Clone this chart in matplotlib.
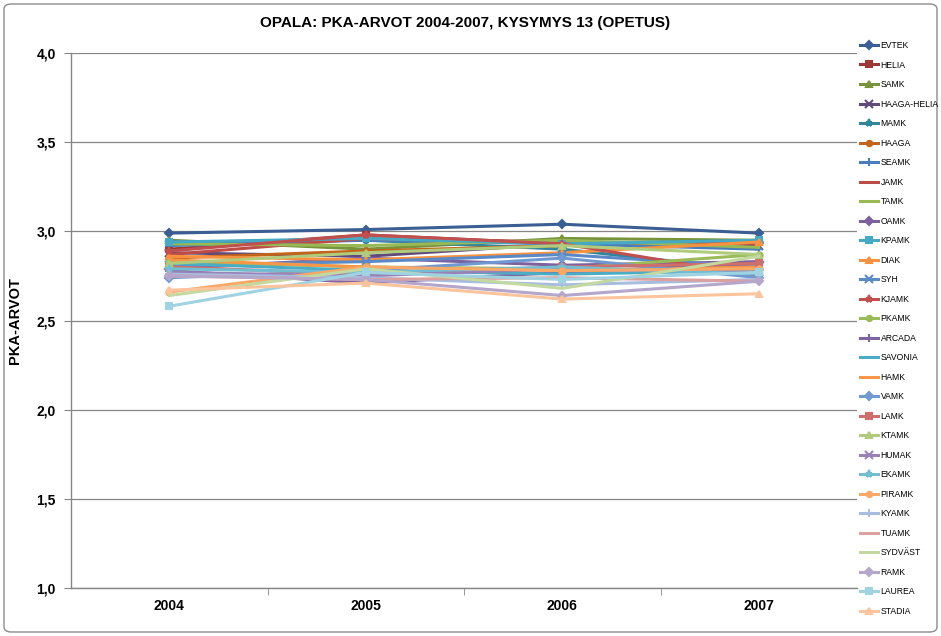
import matplotlib
matplotlib.use('Agg')
import matplotlib.pyplot as plt
from matplotlib.patches import FancyBboxPatch

plt.rcParams['font.family'] = ['Liberation Sans Narrow', 'Liberation Sans', 'DejaVu Sans']

years = ['2004', '2005', '2006', '2007']
yticks = [1.0, 1.5, 2.0, 2.5, 3.0, 3.5, 4.0]
ytick_labels = ['1,0', '1,5', '2,0', '2,5', '3,0', '3,5', '4,0']

names = ['EVTEK', 'HELIA', 'SAMK', 'HAAGA-HELIA', 'MAMK', 'HAAGA', 'SEAMK', 'JAMK', 'TAMK',
         'OAMK', 'KPAMK', 'DIAK', 'SYH', 'KJAMK', 'PKAMK', 'ARCADA', 'SAVONIA', 'HAMK',
         'VAMK', 'LAMK', 'KTAMK', 'HUMAK', 'EKAMK', 'PIRAMK', 'KYAMK', 'TUAMK', 'SYDVÄST',
         'RAMK', 'LAUREA', 'STADIA']

evtek = [2.99, 3.01, 3.04, 2.99]
helia = [2.90, 2.98, 2.93, 2.94]
samk = [2.95, 2.90, 2.96, 2.95]
haaga_helia = [2.88, 2.86, 2.93, 2.92]
mamk = [2.94, 2.95, 2.90, 2.78]
haaga = [2.85, 2.89, 2.92, 2.94]
seamk = [2.92, 2.95, 2.93, 2.90]
jamk = [2.87, 2.96, 2.94, 2.93]
tamk = [2.93, 2.92, 2.95, 2.91]
oamk = [2.79, 2.85, 2.81, 2.83]
kpamk = [2.94, 2.96, 2.93, 2.95]
diak = [2.86, 2.84, 2.88, 2.94]
syh = [2.81, 2.83, 2.87, 2.80]
kjamk = [2.89, 2.98, 2.93, 2.75]
pkamk = [2.83, 2.80, 2.79, 2.87]
arcada = [2.78, 2.71, 2.77, 2.82]
savonia = [2.82, 2.78, 2.76, 2.78]
hamk = [2.84, 2.80, 2.78, 2.80]
vamk = [2.74, 2.78, 2.85, 2.74]
lamk = [2.80, 2.76, 2.80, 2.82]
ktamk = [2.82, 2.88, 2.92, 2.87]
humak = [2.77, 2.75, 2.79, 2.77]
ekamk = [2.79, 2.77, 2.80, 2.76]
piramk = [2.66, 2.80, 2.78, 2.79]
kyamk = [2.76, 2.74, 2.70, 2.73]
tuamk = [2.75, 2.73, 2.74, 2.72]
sydvast = [2.64, 2.79, 2.68, 2.86]
ramk = [2.75, 2.73, 2.64, 2.72]
laurea = [2.58, 2.77, 2.73, 2.77]
stadia = [2.67, 2.71, 2.62, 2.65]

series = [evtek, helia, samk, haaga_helia, mamk, haaga, seamk, jamk, tamk, oamk, kpamk, diak,
          syh, kjamk, pkamk, arcada, savonia, hamk, vamk, lamk, ktamk, humak, ekamk, piramk,
          kyamk, tuamk, sydvast, ramk, laurea, stadia]

colors = ['#3b5f94', '#9b3835', '#77933c', '#604a7b', '#31859c', '#c26419',
          '#4a7ebb', '#be4b48', '#98b954', '#7d60a0', '#46aac5', '#f69240',
          '#5a89c8', '#c0504d', '#9bbb59', '#8064a2', '#4bacc6', '#f79646',
          '#7199d1', '#cf6f6c', '#afcb7b', '#9a82b8', '#72bdd2', '#f9a868',
          '#a7bde0', '#dca09f', '#c3d9a0', '#b5a6cb', '#9fd3e2', '#fbc49c']
markers = ['D', 's', '^', 'x', '*', 'o', '+', '', '', 'D', 's', '^', 'x', '*', 'o', '+', '', '',
           'D', 's', '^', 'x', '*', 'o', '+', '', '', 'D', 's', '^']

fig = plt.figure(figsize=(9.41, 6.36), dpi=100)
ax = fig.add_axes([71 / 941, 48 / 636, 786 / 941, 535 / 636])

x = list(range(len(years)))
for name, vals, c, m in zip(names, series, colors, markers):
    ms = 4.5
    if m in ('x', '+', '*'):
        ms = 6
    ax.plot(x, vals, color=c, lw=2.2, marker=m if m else None, ms=ms,
            mew=1.5, label=name)

ax.set_xlim(-0.5, 3.5)
ax.set_ylim(1.0, 4.0)
ax.set_yticks(yticks)
ax.set_yticklabels(ytick_labels, fontsize=10, fontweight='bold')
ax.set_xticks(x)
ax.set_xticklabels(years, fontsize=10, fontweight='bold')
ax.set_xticks([0.5, 1.5, 2.5], minor=True)
ax.tick_params(axis='x', which='major', length=0, pad=8)
ax.tick_params(axis='x', which='minor', length=5, color='#868686')
ax.tick_params(axis='y', length=5, color='#868686', pad=6)
ax.grid(axis='y', color='#868686', lw=0.9)
ax.set_axisbelow(True)
for s in ['top', 'right']:
    ax.spines[s].set_visible(False)
for s in ['left', 'bottom']:
    ax.spines[s].set_color('#868686')
    ax.spines[s].set_linewidth(1)

ax.set_ylabel('PKA-ARVOT', fontsize=10.5, fontweight='bold', labelpad=10)
fig.text(465 / 941, 1 - 23 / 636, 'OPALA: PKA-ARVOT 2004-2007, KYSYMYS 13 (OPETUS)',
         ha='center', va='center', fontsize=11, fontweight='bold')

leg = fig.legend(loc='upper left', bbox_to_anchor=(860 / 941, 1 - 41 / 636), frameon=False,
                 fontsize=6.2, labelspacing=1.22, handlelength=2.1, handletextpad=0.3,
                 borderpad=0, borderaxespad=0, markerscale=0.85)

border = FancyBboxPatch((4 / 941, 4 / 636), 933 / 941, 628 / 636,
                        boxstyle='round,pad=0,rounding_size=0.008',
                        transform=fig.transFigure, fill=False, ec='#8c8c8c', lw=1)
fig.patches.append(border)

fig.savefig('out.png', dpi=100)
